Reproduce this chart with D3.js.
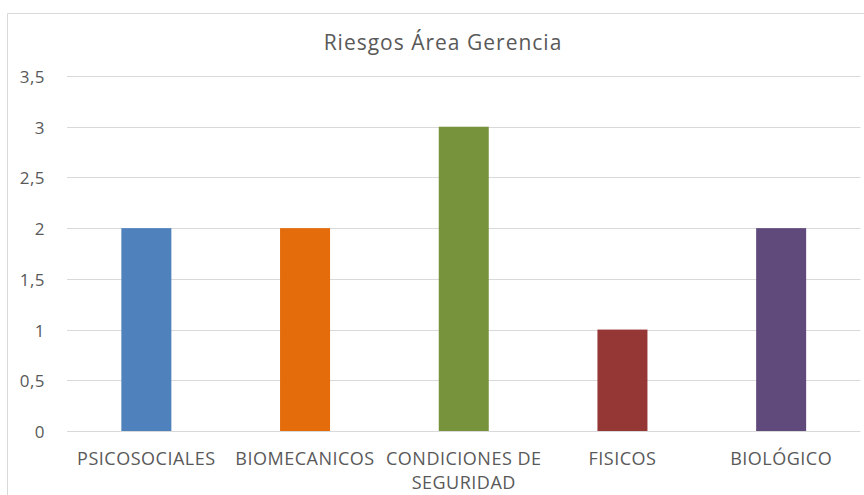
<!DOCTYPE html>
<html>
<head>
  <meta charset="utf-8" />
  <title>Riesgos Área Gerencia</title>
  <script src="https://d3js.org/d3.v7.min.js"></script>
  <style>
    body{ margin:0; background:#fff; }
    svg text{ font-family:"Open Sans","Noto Sans",sans-serif; fill:#595959; }
  </style>
</head>
<body>
<script>
// chart data
var categories = ["PSICOSOCIALES", "BIOMECANICOS", "CONDICIONES DE SEGURIDAD", "FISICOS", "BIOLÓGICO"];
var values = [2, 2, 3, 1, 2];
var colors = ["#4F81BD", "#E46C0A", "#77933C", "#953735", "#604A7B"];
var yTicks = [0, 0.5, 1, 1.5, 2, 2.5, 3, 3.5];
var title = "Riesgos Área Gerencia";

var W = 864, H = 495;
var svg = d3.select("body").append("svg").attr("width", W).attr("height", H);

// chart frame (cut at the bottom and right as in the picture)
svg.append("path")
  .attr("d", "M7.5," + H + "V13.5H" + W)
  .attr("fill", "none").attr("stroke", "#d9d9d9");

var x = d3.scaleBand().domain(categories).range([67, 860.5]).padding(0);
var y = d3.scaleLinear().domain([0, 3.5]).range([431, 76]);
var fmt = function(d){ return String(d).replace(".", ","); };

// gridlines
svg.append("g").selectAll("line").data(yTicks).enter().append("line")
  .attr("x1", 67).attr("x2", 860.5)
  .attr("y1", function(d){ return Math.round(y(d)) + 0.5; })
  .attr("y2", function(d){ return Math.round(y(d)) + 0.5; })
  .attr("stroke", "#d9d9d9").attr("stroke-width", 1);

// y axis labels
var yAxis = d3.axisLeft(y).tickValues(yTicks).tickFormat(fmt).tickSize(0).tickPadding(0);
var ya = svg.append("g").attr("transform", "translate(45,1)").call(yAxis);
ya.select(".domain").remove();
ya.selectAll("text").attr("font-size", "17px").attr("letter-spacing", "0.5px")
  .style("font-family", null).attr("fill", "#595959");

// bars
var bw = 50;
svg.append("g").selectAll("rect").data(values).enter().append("rect")
  .attr("x", function(d, i){ return x(categories[i]) + x.bandwidth() / 2 - bw / 2; })
  .attr("width", bw)
  .attr("y", function(d){ return y(d); })
  .attr("height", function(d){ return y(0) - y(d); })
  .attr("fill", function(d, i){ return colors[i]; });

// category labels (wrapped like the original)
var labelLines = {"CONDICIONES DE SEGURIDAD": ["CONDICIONES DE", "SEGURIDAD"]};
var cat = svg.append("g").selectAll("text").data(categories).enter().append("text")
  .attr("text-anchor", "middle")
  .attr("font-size", "18px")
  .attr("letter-spacing", "0.5px")
  .attr("x", function(d){ return x(d) + x.bandwidth() / 2; })
  .attr("y", 465);
cat.each(function(d){
  var lines = labelLines[d] || [d];
  var t = d3.select(this);
  lines.forEach(function(l, i){
    t.append("tspan").attr("x", x(d) + x.bandwidth() / 2).attr("dy", i ? 23.5 : 0).text(l);
  });
});

// title
svg.append("text")
  .attr("x", 443).attr("y", 50)
  .attr("text-anchor", "middle")
  .attr("font-size", "21px")
  .attr("letter-spacing", "1px")
  .text(title);
</script>
</body>
</html>
